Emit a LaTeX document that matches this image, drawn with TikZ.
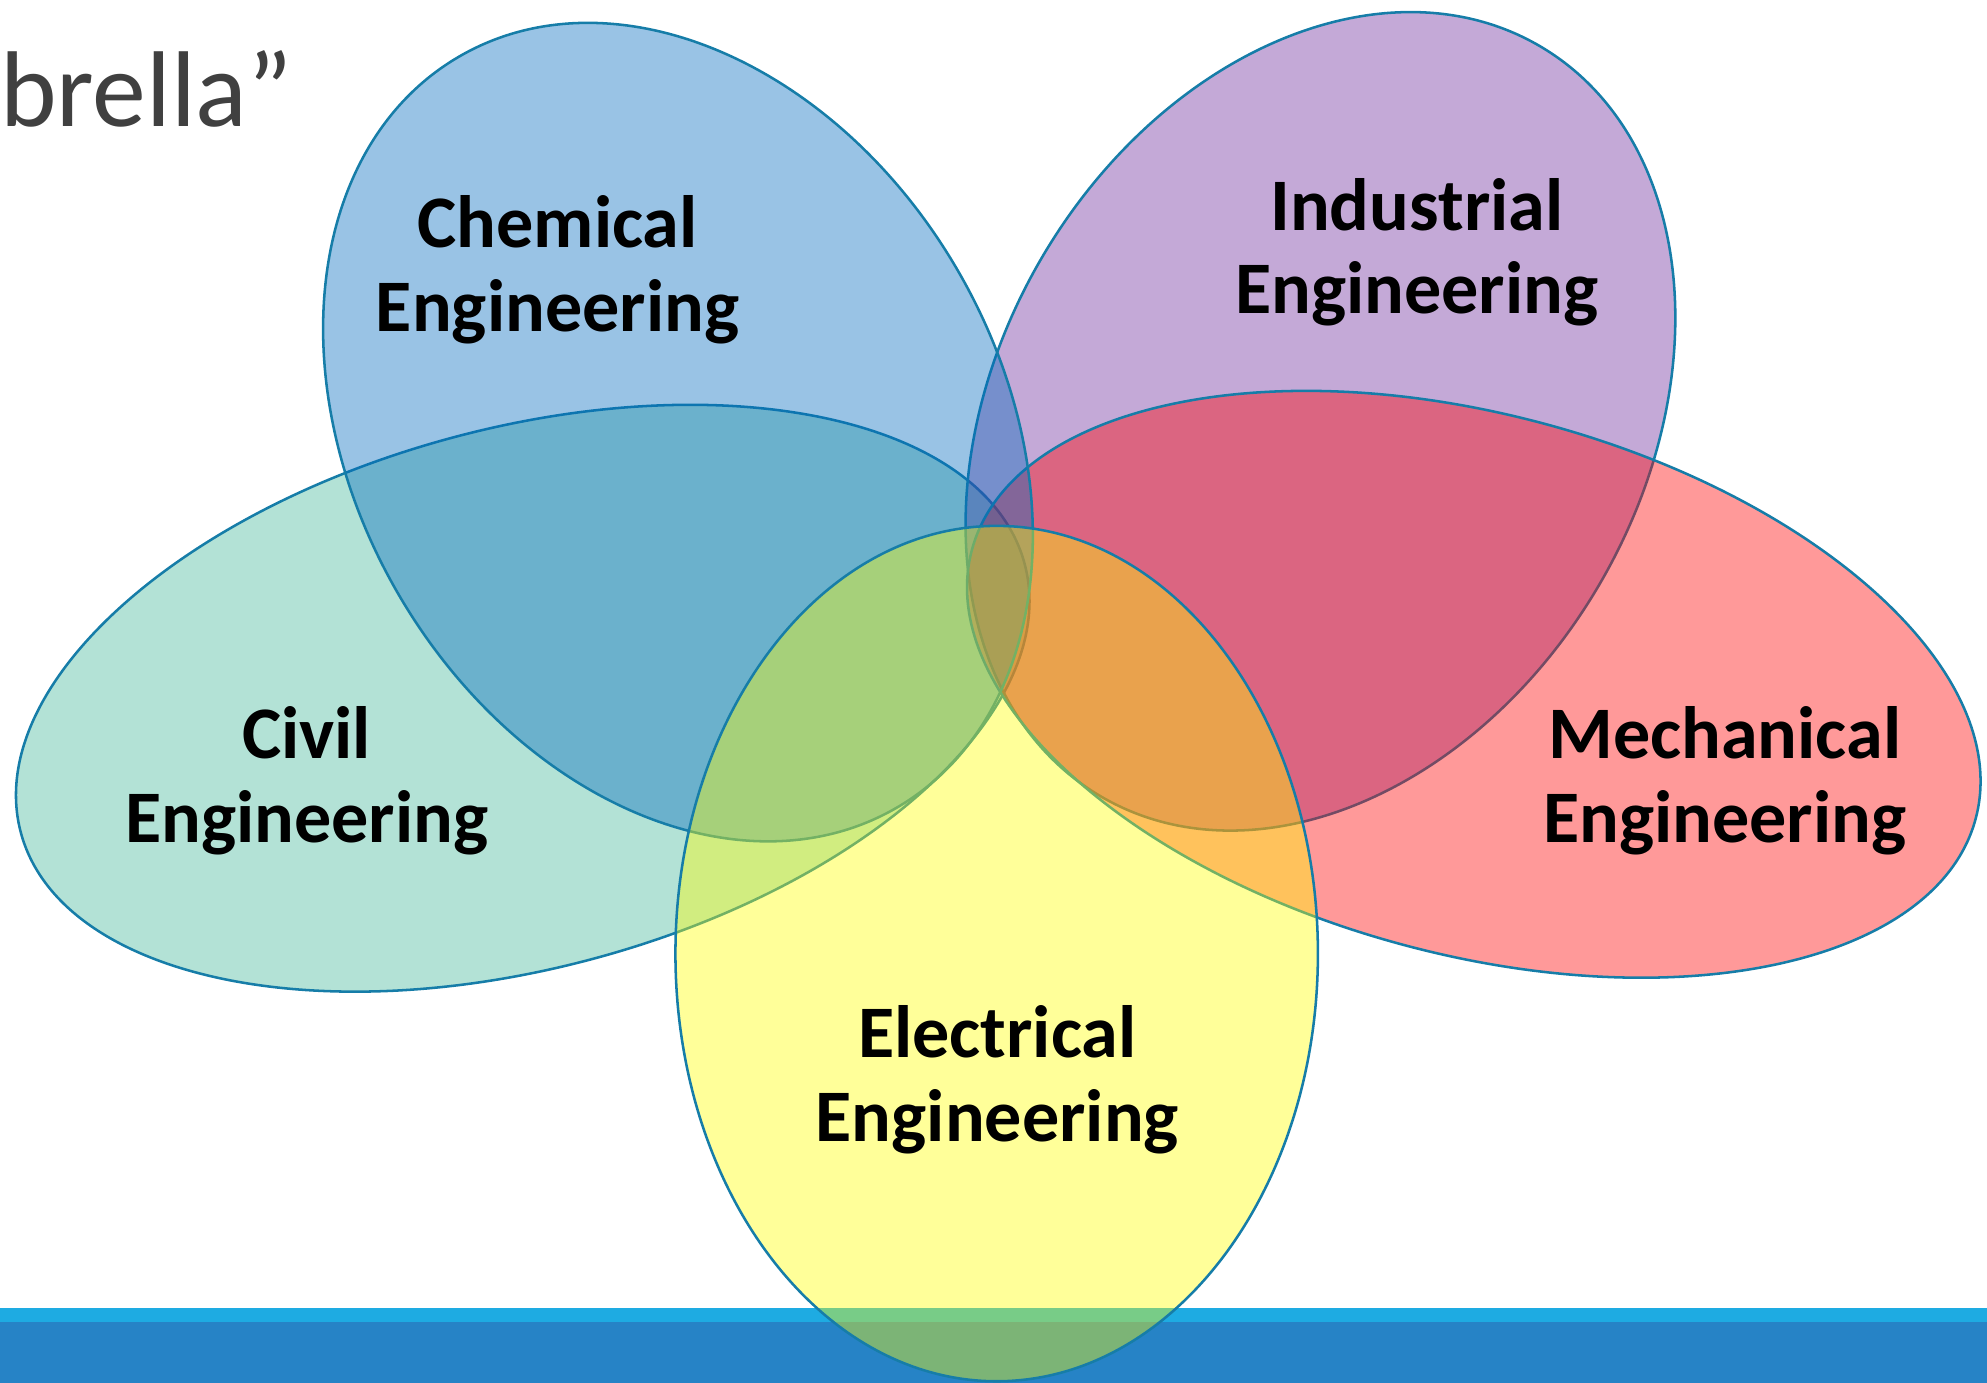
\documentclass[tikz,border=0pt]{standalone}
\usepackage{fontspec}
\setmainfont{Carlito}
\usetikzlibrary{shapes.geometric}

\definecolor{rimblue}{HTML}{167DA8}
\definecolor{chemcol}{HTML}{0069BE}
\definecolor{indcol}{HTML}{6B289B}
\definecolor{civilcol}{HTML}{41B698}
\definecolor{mechcol}{HTML}{FF0000}
\definecolor{eleccol}{HTML}{FFFF00}
\definecolor{barlight}{HTML}{1EABE2}
\definecolor{bardark}{HTML}{2683C6}
\definecolor{titlegray}{HTML}{404040}

\begin{document}
\begin{tikzpicture}[x=1pt,y=1pt,
                    petal node/.style={ellipse,draw=rimblue,line width=2pt,
                                       fill opacity=0.4,inner sep=0pt},
                    text node/.style={align=center,inner sep=0pt,
                                      font=\fontsize{58.5}{66}\selectfont\bfseries}]
  \useasboundingbox (0,0) rectangle (1568,1091);
  \fill[barlight] (0,48) rectangle (1568,59);
  \fill[bardark] (0,0) rectangle (1568,48);
  \node[anchor=base west,inner sep=0pt,text=titlegray,
        font=\fontsize{85}{100}\selectfont] (title) at (0,991.5) {brella”};
  % the five fields
  \node[petal node,fill=civilcol,minimum width=820pt,minimum height=426pt,rotate=15] (civil) at (412.5,540) {};
  \node[petal node,fill=indcol,minimum width=686pt,minimum height=510pt,rotate=59.7] (ind) at (1042,758.5) {};
  \node[petal node,fill=mechcol,minimum width=820pt,minimum height=426pt,rotate=-15] (mech) at (1163,551) {};
  \node[petal node,fill=chemcol,minimum width=686pt,minimum height=510pt,rotate=120.3] (chem) at (535,750) {};
  \node[petal node,fill=eleccol,minimum width=507pt,minimum height=675pt] (elec) at (786.5,338.5) {};
  % names
  \node[text node] (chemtext) at (440,878) {Chemical\\Engineering};
  \node[text node] (indtext) at (1118,892) {Industrial\\Engineering};
  \node[text node] (civiltext) at (242,475) {Civil\\Engineering};
  \node[text node] (mechtext) at (1361,475) {Mechanical\\Engineering};
  \node[text node] (electext) at (787,239) {Electrical\\Engineering};
\end{tikzpicture}
\end{document}
